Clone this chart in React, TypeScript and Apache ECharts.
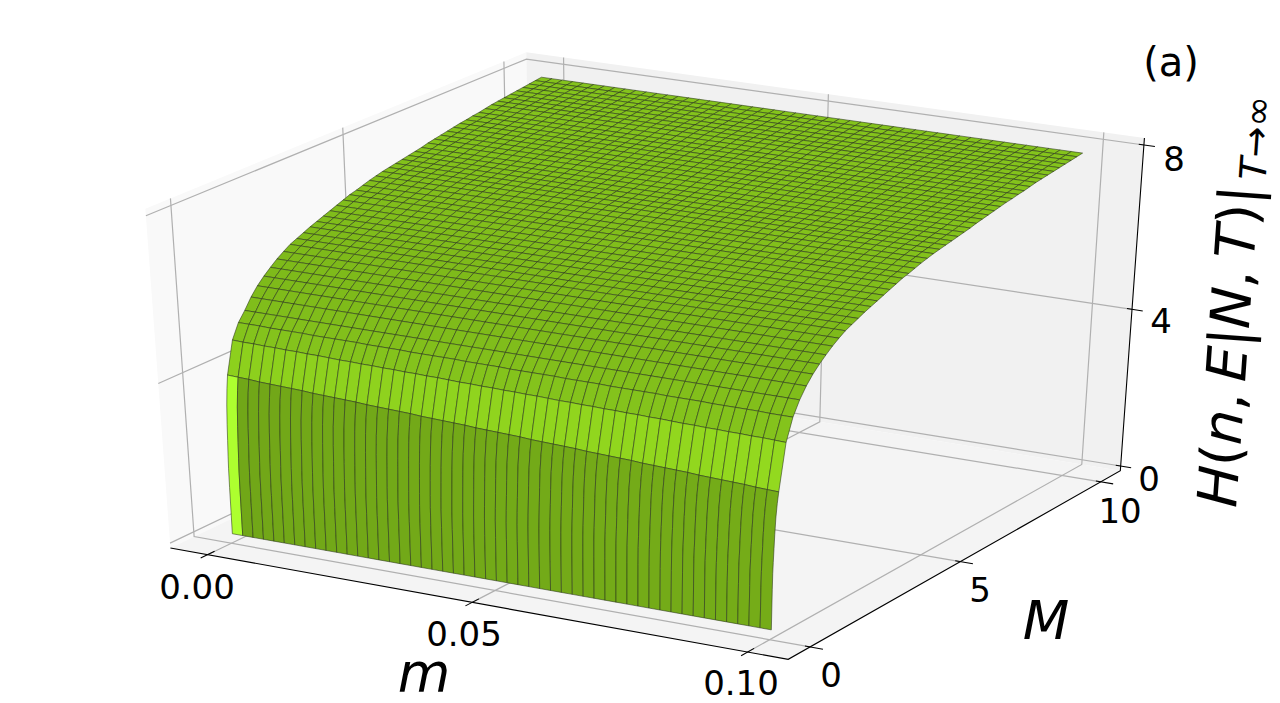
import React, { useEffect, useRef } from "react";
import * as echarts from "echarts";

// ---- values ----
const mLimits = [-0.0072, 0.1072];
const MLimits = [-0.7, 10.72];
const zLimits = [-0.124, 8.166];
const mTicks = [0, 0.05, 0.1];
const MTicks = [0, 5, 10];
const zTicks = [0, 4, 8];
const mTickLabels = ["0.00", "0.05", "0.10"];
const MTickLabels = ["0", "5", "10"];
const zTickLabels = ["0", "4", "8"];

const mGrid = [
  0, 0.002, 0.004, 0.006, 0.008, 0.01, 0.012, 0.014, 0.016, 0.018, 0.02, 0.022, 0.024, 0.026, 0.028, 0.03, 0.032,
  0.034, 0.036, 0.038, 0.04, 0.042, 0.044, 0.046, 0.048, 0.05, 0.052, 0.054, 0.056, 0.058, 0.06, 0.062, 0.064, 0.066,
  0.068, 0.07, 0.072, 0.074, 0.076, 0.078, 0.08, 0.082, 0.084, 0.086, 0.088, 0.09, 0.092, 0.094, 0.096, 0.098, 0.1,
];
const MGrid = [
  0.05, 0.2, 0.4, 0.6, 0.8, 1.0, 1.2, 1.4, 1.6, 1.8, 2.0, 2.2, 2.4, 2.6, 2.8, 3.0, 3.2, 3.4, 3.6, 3.8, 4.0, 4.2, 4.4,
  4.6, 4.8, 5.0, 5.2, 5.4, 5.6, 5.8, 6.0, 6.2, 6.4, 6.6, 6.8, 7.0, 7.2, 7.4, 7.6, 7.8, 8.0, 8.2, 8.4, 8.6, 8.8, 9.0,
  9.2, 9.4, 9.6, 9.8, 10.0,
];
// height of the surface along each M row (rows beyond the first few do not change with m)
const HByM = [
  0.1, 4.02, 4.8, 5.15, 5.37, 5.62, 5.82, 5.98, 6.12, 6.25, 6.36, 6.46, 6.53, 6.6, 6.67, 6.73, 6.79, 6.85, 6.91, 6.97,
  7.03, 7.07, 7.12, 7.17, 7.21, 7.25, 7.28, 7.31, 7.34, 7.37, 7.4, 7.43, 7.47, 7.5, 7.53, 7.56, 7.59, 7.62, 7.64, 7.67,
  7.69, 7.72, 7.75, 7.77, 7.79, 7.81, 7.83, 7.85, 7.87, 7.89, 7.91,
];
// how far the surface sits below HByM along m, for the three front rows (M = 0.2, 0.4, 0.6)
const dropAtM02 = [
  0, 0.01, 0.02, 0.04, 0.05, 0.06, 0.07, 0.08, 0.1, 0.11, 0.12, 0.13, 0.14, 0.16, 0.17, 0.18, 0.19, 0.2, 0.22, 0.23,
  0.24, 0.25, 0.26, 0.28, 0.29, 0.3, 0.31, 0.32, 0.34, 0.35, 0.36, 0.37, 0.38, 0.4, 0.41, 0.42, 0.43, 0.44, 0.46, 0.47,
  0.48, 0.49, 0.5, 0.52, 0.53, 0.54, 0.55, 0.56, 0.58, 0.59, 0.6,
];
const dropAtM04 = [
  0, 0.01, 0.01, 0.02, 0.02, 0.03, 0.03, 0.04, 0.04, 0.05, 0.06, 0.06, 0.07, 0.07, 0.08, 0.08, 0.09, 0.09, 0.1, 0.1,
  0.11, 0.12, 0.12, 0.13, 0.13, 0.14, 0.14, 0.15, 0.15, 0.16, 0.17, 0.17, 0.18, 0.18, 0.19, 0.19, 0.2, 0.2, 0.21, 0.21,
  0.22, 0.23, 0.23, 0.24, 0.24, 0.25, 0.25, 0.26, 0.26, 0.27, 0.28,
];
const dropAtM06 = [
  0, 0, 0, 0.01, 0.01, 0.01, 0.01, 0.02, 0.02, 0.02, 0.02, 0.02, 0.03, 0.03, 0.03, 0.03, 0.04, 0.04, 0.04, 0.04, 0.04,
  0.05, 0.05, 0.05, 0.05, 0.06, 0.06, 0.06, 0.06, 0.06, 0.07, 0.07, 0.07, 0.07, 0.08, 0.08, 0.08, 0.08, 0.08, 0.09,
  0.09, 0.09, 0.09, 0.1, 0.1, 0.1, 0.1, 0.1, 0.11, 0.11, 0.11,
];
// the steep rise between M = 0.05 and M = 0.2 (no mesh line crosses it)
const wallM = [0.05, 0.055, 0.06, 0.07, 0.085, 0.1, 0.125, 0.16, 0.2];
const wallRise = [0, 0.3, 0.42, 0.5, 0.6, 0.7, 0.82, 0.92, 1];

// brightness of the base colour, one per M row
const rowShade = [
  0.655, 0.815, 0.765, 0.75, 0.74, 0.735, 0.73, 0.73, 0.73, 0.73, 0.73, 0.735, 0.735, 0.735, 0.74, 0.74, 0.74, 0.745,
  0.745, 0.745, 0.75, 0.75, 0.75, 0.75, 0.755, 0.755, 0.755, 0.755, 0.755, 0.76, 0.76, 0.76, 0.76, 0.76, 0.76, 0.76,
  0.76, 0.765, 0.765, 0.765, 0.765, 0.765, 0.765, 0.765, 0.765, 0.765, 0.765, 0.765, 0.765, 0.765,
];
const baseColor = [173, 255, 36];

// ---- box corners on the page: [m side, M side, z side, px, py] ----
const boxCorners: number[][] = [
  [0, 0, 0, 170, 547],
  [1, 0, 0, 789, 659],
  [1, 1, 0, 1120, 472],
  [0, 0, 1, 145, 210],
  [1, 1, 1, 1144, 137],
  [0, 1, 1, 527, 52],
];

function solve(A: number[][], b: number[]) {
  const n = b.length;
  const M = A.map((r, i) => [...r, b[i]]);
  for (let i = 0; i < n; i++) {
    let p = i;
    for (let k = i + 1; k < n; k++) if (Math.abs(M[k][i]) > Math.abs(M[p][i])) p = k;
    [M[i], M[p]] = [M[p], M[i]];
    for (let k = 0; k < n; k++) {
      if (k === i) continue;
      const f = M[k][i] / M[i][i];
      for (let c = i; c <= n; c++) M[k][c] -= f * M[i][c];
    }
  }
  return M.map((r, i) => r[n] / r[i]);
}
function fitCamera() {
  const rows: number[][] = [];
  const rhs: number[] = [];
  for (const [u, v, w, x, y] of boxCorners) {
    rows.push([u, v, w, 1, 0, 0, 0, 0, -x * u, -x * v, -x * w]);
    rhs.push(x);
    rows.push([0, 0, 0, 0, u, v, w, 1, -y * u, -y * v, -y * w]);
    rhs.push(y);
  }
  const n = 11;
  const AtA = Array.from({ length: n }, () => Array(n).fill(0));
  const Atb = Array(n).fill(0);
  rows.forEach((r, i) => {
    for (let a = 0; a < n; a++) {
      Atb[a] += r[a] * rhs[i];
      for (let b = 0; b < n; b++) AtA[a][b] += r[a] * r[b];
    }
  });
  return solve(AtA, Atb);
}
const P = fitCamera();
const project = (u: number, v: number, w: number) => {
  const d = P[8] * u + P[9] * v + P[10] * w + 1;
  return [(P[0] * u + P[1] * v + P[2] * w + P[3]) / d, (P[4] * u + P[5] * v + P[6] * w + P[7]) / d];
};
const uOf = (m: number) => (m - mLimits[0]) / (mLimits[1] - mLimits[0]);
const vOf = (M: number) => (M - MLimits[0]) / (MLimits[1] - MLimits[0]);
const wOf = (z: number) => (z - zLimits[0]) / (zLimits[1] - zLimits[0]);

function heightAt(row: number, col: number) {
  const drop = row === 1 ? dropAtM02[col] : row === 2 ? dropAtM04[col] : row === 3 ? dropAtM06[col] : 0;
  return HByM[row] - drop;
}
function shadeColor(row: number, col: number) {
  if (row === 0 && col === 0) return "#adff2f";
  let s = rowShade[row];
  if (row === 0) s += (0.02 * col) / 49;
  if (row === 1) s += (0.035 * col) / 49;
  return `rgb(${baseColor.map((c) => Math.round(c * s)).join(",")})`;
}

const GRID = "#b0b0b0";
const FONT = "DejaVu Sans";

function renderFrame(_p: any, api: any) {
  const pt = (u: number, v: number, w: number) => api.coord(project(u, v, w));
  const poly = (pts: number[][], fill: string) => ({
    type: "polygon",
    silent: true,
    shape: { points: pts },
    style: { fill, stroke: "none" },
  });
  const line = (pts: number[][], stroke: string, lineWidth: number) => ({
    type: "polyline",
    silent: true,
    shape: { points: pts },
    style: { fill: "none", stroke, lineWidth },
  });
  const children: any[] = [
    poly([pt(0, 0, 0), pt(0, 0, 1), pt(0, 1, 1), pt(0, 1, 0)], "#f9f9f9"),
    poly([pt(0, 1, 0), pt(0, 1, 1), pt(1, 1, 1), pt(1, 1, 0)], "#f1f1f1"),
    poly([pt(0, 0, 0), pt(1, 0, 0), pt(1, 1, 0), pt(0, 1, 0)], "#f4f4f4"),
  ];
  mTicks.forEach((m) => {
    const u = uOf(m);
    children.push(line([pt(u, 0, 0), pt(u, 1, 0), pt(u, 1, 1)], GRID, 1.2));
  });
  MTicks.forEach((M) => {
    const v = vOf(M);
    children.push(line([pt(1, v, 0), pt(0, v, 0), pt(0, v, 1)], GRID, 1.2));
  });
  zTicks.forEach((z) => {
    const w = wOf(z);
    children.push(line([pt(0, 0, w), pt(0, 1, w), pt(1, 1, w)], GRID, 1.2));
  });
  children.push(line([pt(0, 0, 0), pt(1, 0, 0), pt(1, 1, 0), pt(1, 1, 1)], "#000", 1.1));
  mTicks.forEach((m) => {
    const u = uOf(m);
    children.push(line([pt(u, -0.018, 0), pt(u, 0.018, 0)], "#000", 1.1));
  });
  MTicks.forEach((M) => {
    const v = vOf(M);
    children.push(line([pt(0.992, v, 0), pt(1.02, v, 0)], "#000", 1.1));
  });
  zTicks.forEach((z) => {
    const w = wOf(z);
    children.push(line([pt(0.992, 1, w), pt(1.017, 1, w)], "#000", 1.1));
  });
  return { type: "group", children };
}

function renderCell(_p: any, api: any) {
  const row = api.value(0) as number;
  const col = api.value(1) as number;
  const at = (r: number, c: number) => project(uOf(mGrid[c]), vOf(MGrid[r]), wOf(heightAt(r, c)));
  let pts: number[][];
  if (row === 0) {
    const edge = (c: number) =>
      wallM.map((M, k) => {
        const top = heightAt(1, c);
        const z = HByM[0] + wallRise[k] * (top - HByM[0]);
        return project(uOf(mGrid[c]), vOf(M), wOf(z));
      });
    pts = [...edge(col), ...edge(col + 1).reverse()];
  } else {
    pts = [at(row, col), at(row, col + 1), at(row + 1, col + 1), at(row + 1, col)];
  }
  return {
    type: "polygon",
    silent: true,
    shape: { points: pts.map((p) => api.coord(p)) },
    style: { fill: shadeColor(row, col), stroke: "rgba(40,50,25,0.8)", lineWidth: 0.7, lineJoin: "round" },
  };
}

const label = (text: string, x: number, y: number, fontSize = 34, fontStyle = "normal") => ({
  type: "text",
  x,
  y,
  silent: true,
  style: { text, fontSize, fontStyle, fontFamily: FONT, fill: "#000", align: "center", verticalAlign: "middle" },
});

export default function App() {
  const ref = useRef<HTMLDivElement>(null);
  useEffect(() => {
    document.body.style.margin = "0";
    const chart = echarts.init(ref.current!, null, { renderer: "svg" });
    const cells: number[][] = [];
    for (let r = MGrid.length - 2; r >= 0; r--) for (let c = 0; c < mGrid.length - 1; c++) cells.push([r, c]);
    const tickPos = {
      m: [[197, 587], [464, 634], [741, 683]],
      M: [[831, 675], [980, 590], [1120, 511]],
      z: [[1149, 479], [1161, 321], [1174, 159]],
    };
    chart.setOption({
      animation: false,
      grid: { left: 0, right: 0, top: 0, bottom: 0 },
      xAxis: { type: "value", min: 0, max: 1280, show: false },
      yAxis: { type: "value", min: 0, max: 703, inverse: true, show: false },
      series: [
        { type: "custom", coordinateSystem: "cartesian2d", data: [[0, 0]], renderItem: renderFrame, silent: true, z: 1, clip: false },
        { type: "custom", coordinateSystem: "cartesian2d", data: cells, renderItem: renderCell, silent: true, z: 2, clip: false, progressive: 0 },
      ],
      graphic: [
        ...mTickLabels.map((t, i) => label(t, tickPos.m[i][0], tickPos.m[i][1])),
        ...MTickLabels.map((t, i) => label(t, tickPos.M[i][0], tickPos.M[i][1])),
        ...zTickLabels.map((t, i) => label(t, tickPos.z[i][0], tickPos.z[i][1])),
        label("(a)", 1171, 62, 40),
        label("m", 424, 672, 54, "italic"),
        label("M", 1046, 620, 54, "italic"),
        {
          type: "group",
          x: 1217,
          y: 507,
          rotation: (85.9 * Math.PI) / 180,
          silent: true,
          children: [
            {
              type: "text",
              silent: true,
              style: {
                text: "{i|H}{r|(}{i|n}{r|,\u2009}{i|E}{r|\u007c}{i|N}{r|,\u2009}{i|T}{r|)\u007c}",
                fontFamily: FONT,
                fontSize: 55,
                fill: "#000",
                align: "left",
                verticalAlign: "middle",
                rich: {
                  i: { fontFamily: FONT, fontSize: 55, fontStyle: "italic", fill: "#000" },
                  r: { fontFamily: FONT, fontSize: 55, fill: "#000" },
                },
              },
            },
          ],
        },
        {
          type: "group",
          x: 1253,
          y: 180,
          rotation: (85.9 * Math.PI) / 180,
          silent: true,
          children: [
            {
              type: "text",
              silent: true,
              style: {
                text: "{i|T}{r|\u2192\u221e}",
                fontFamily: FONT,
                fontSize: 37,
                fill: "#000",
                align: "left",
                verticalAlign: "middle",
                rich: {
                  i: { fontFamily: FONT, fontSize: 37, fontStyle: "italic", fill: "#000" },
                  r: { fontFamily: FONT, fontSize: 37, fill: "#000" },
                },
              },
            },
          ],
        },
      ],
    });
    return () => chart.dispose();
  }, []);
  return <div ref={ref} style={{ position: "absolute", left: 0, top: 0, width: 1280, height: 703 }} />;
}
